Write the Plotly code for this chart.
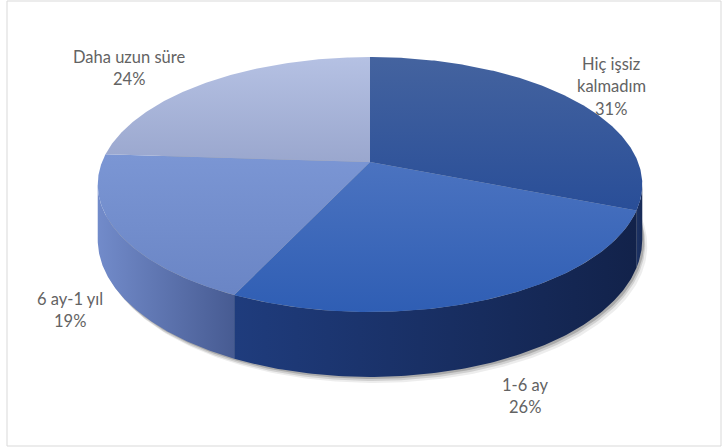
import numpy as np
import plotly.graph_objects as go

# ---- data ----
categories = ["Hiç işsiz kalmadım", "1-6 ay", "6 ay-1 yıl", "Daha uzun süre"]
values = [31, 26, 19, 24]
label_lines = [["Hiç işsiz", "kalmadım"], ["1-6 ay"], ["6 ay-1 yıl"], ["Daha uzun süre"]]

# ---- style ----
# (top-of-screen colour, bottom-of-screen colour)
top_colors = [("#44639f", "#294e98"), ("#4b73c0", "#2f5eb4"),
              ("#7b96d4", "#6a85c5"), ("#b5c1e3", "#9aa7ce")]
side_colors = [("#1d3366", "#172a55"), ("#1f3c7d", "#12224a"),
               ("#728bca", "#475b92"), ("#7f8fbf", "#7f8fbf")]
label_pos = [(611, 86), (525, 396), (70, 310), (129, 68)]
LINE_GAP = 22.5
TEXT_COLOR = "#636363"

# ---- projection geometry (pixel space) ----
CX, CY = 370, 162
B, A, P, H = 268, 123.5, 0.1765, 53.5


def proj(theta_deg, drop=0.0):
    t = np.radians(theta_deg)
    X, Z = np.cos(t), np.sin(t)
    w = 1 + P * Z
    return CX + B * X / w, CY - A * Z / w + drop / w


total = float(sum(values))
fracs = [v / total for v in values]
cum = np.concatenate([[0], np.cumsum(fracs)])
# clockwise from 12 o'clock
spans = [(90 - cum[i] * 360, 90 - cum[i + 1] * 360) for i in range(len(values))]

vis_lo = 180 + np.degrees(np.arcsin(P))
vis_hi = 360 - np.degrees(np.arcsin(P))

fig = go.Figure()

# shadow
th = np.linspace(0, 360, 361)
sx, sy = proj(th, H)
for dx, dy, op in [(5, 6, 0.07), (3, 4, 0.12), (2, 2, 0.18)]:
    fig.add_trace(go.Scatter(x=sx + dx, y=sy + dy, fill="toself", mode="lines",
                             line=dict(width=0), fillcolor=f"rgba(0,0,0,{op})",
                             hoverinfo="skip", showlegend=False))

# sides
for i, (a0, a1) in enumerate(spans):
    lo, hi = sorted([a0, a1])
    for shift in (0, 360, -360):
        l, h = lo + shift, hi + shift
        l2, h2 = max(l, vis_lo), min(h, vis_hi)
        if h2 > l2:
            t = np.linspace(l2, h2, 120)
            xt, yt = proj(t)
            xb, yb = proj(t[::-1], H)
            fig.add_trace(go.Scatter(
                x=np.concatenate([xt, xb]), y=np.concatenate([yt, yb]),
                fill="toself", mode="lines", line=dict(width=0),
                fillgradient=dict(type="horizontal",
                                  colorscale=[[0, side_colors[i][0]], [1, side_colors[i][1]]]),
                hoverinfo="skip", showlegend=False))

# top faces
for i, (a0, a1) in enumerate(spans):
    t = np.linspace(a0, a1, 200)
    xa, ya = proj(t)
    fig.add_trace(go.Scatter(
        x=np.concatenate([[CX], xa, [CX]]), y=np.concatenate([[CY], ya, [CY]]),
        fill="toself", mode="lines", line=dict(width=0),
        fillgradient=dict(type="vertical",
                          colorscale=[[0, top_colors[i][1]], [1, top_colors[i][0]]]),
        hoverinfo="skip", showlegend=False, name=categories[i]))

# labels
annotations = []
for i, lines in enumerate(label_lines):
    pct = f"{round(fracs[i] * 100)}%"
    all_lines = lines + [pct]
    x0, yc = label_pos[i]
    n = len(all_lines)
    for j, txt in enumerate(all_lines):
        y = yc + (j - (n - 1) / 2) * LINE_GAP
        annotations.append(dict(x=x0, y=y, xref="x", yref="y", text=txt, showarrow=False,
                                font=dict(family="Lato", size=16.5, color=TEXT_COLOR),
                                xanchor="center", yanchor="middle"))

fig.update_layout(
    width=722, height=448, margin=dict(l=0, r=0, t=0, b=0),
    paper_bgcolor="white", plot_bgcolor="white",
    xaxis=dict(range=[0, 722], visible=False, fixedrange=True),
    yaxis=dict(range=[448, 0], visible=False, fixedrange=True),
    annotations=annotations,
    shapes=[dict(type="rect", xref="x", yref="y", x0=7, y0=1, x1=721, y1=446,
                 line=dict(color="#d9d9d9", width=1), fillcolor="rgba(0,0,0,0)", layer="above")],
)

fig.write_html("out.html")
